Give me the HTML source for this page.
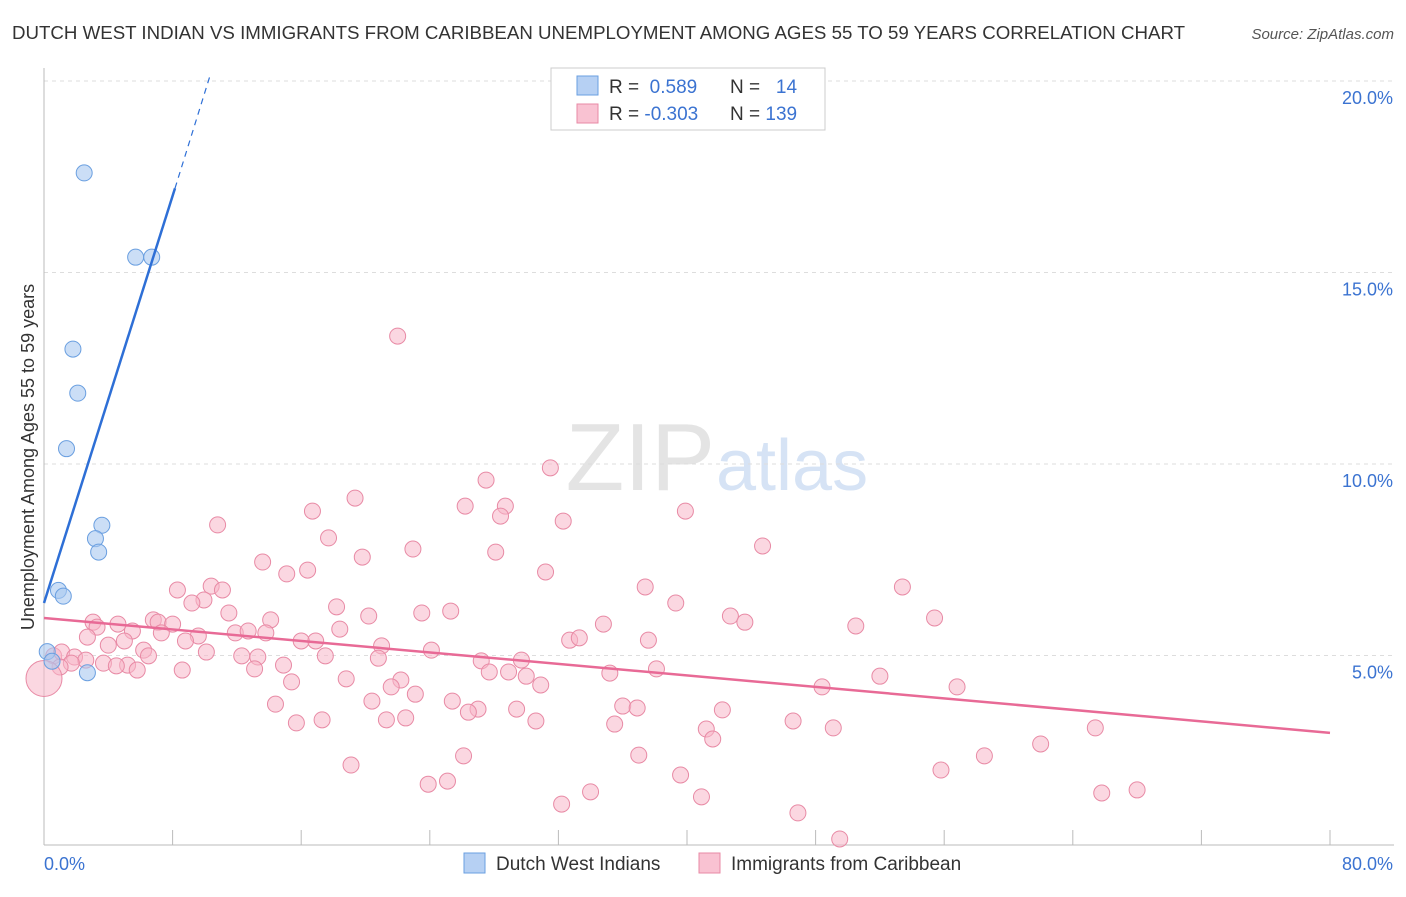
<!DOCTYPE html>
<html><head><meta charset="utf-8"><style>
body{margin:0;background:#fff;font-family:"Liberation Sans",sans-serif;}
svg text{font-family:"Liberation Sans",sans-serif;}
</style></head><body>
<svg id="chart" width="1406" height="892" viewBox="0 0 1406 892">
<text x="12" y="39" font-size="18.7" fill="#333">DUTCH WEST INDIAN VS IMMIGRANTS FROM CARIBBEAN UNEMPLOYMENT AMONG AGES 55 TO 59 YEARS CORRELATION CHART</text>
<text x="1394" y="39" font-size="15" fill="#555" font-style="italic" text-anchor="end">Source: ZipAtlas.com</text>
<text x="715" y="490" font-size="96" fill="#e4e4e4" text-anchor="end" font-family="Liberation Serif">ZIP</text>
<text x="716" y="490" font-size="72" fill="#d6e3f5">atlas</text>
<g id="grid"></g>
<g id="axes"></g>
<g id="marks"></g>
<text transform="translate(34,457) rotate(-90)" font-size="18" fill="#333" text-anchor="middle">Unemployment Among Ages 55 to 59 years</text>
<text x="44" y="870" font-size="18" fill="#3b73d1">0.0%</text>
<text x="1393" y="870" font-size="18" fill="#3b73d1" text-anchor="end">80.0%</text>
<g>
<rect x="551" y="68" width="274" height="62" fill="#fff" stroke="#ccc"/>
<rect x="577" y="76" width="21" height="19" fill="#b6d0f3" stroke="#6a9fe0"/>
<rect x="577" y="104" width="21" height="19" fill="#f9c2d2" stroke="#e88aa5"/>
<text x="609" y="93" font-size="19" fill="#333">R = <tspan fill="#3b73d1">&#160;0.589</tspan></text>
<text x="730" y="93" font-size="19" fill="#333">N = <tspan fill="#3b73d1">&#160;&#160;14</tspan></text>
<text x="609" y="120" font-size="19" fill="#333">R = <tspan fill="#3b73d1">-0.303</tspan></text>
<text x="730" y="120" font-size="19" fill="#333">N = <tspan fill="#3b73d1">139</tspan></text>
</g>
<g>
<rect x="464" y="853" width="21" height="20" fill="#b6d0f3" stroke="#6a9fe0"/>
<text x="496" y="870" font-size="19" fill="#333">Dutch West Indians</text>
<rect x="699" y="853" width="21" height="20" fill="#f9c2d2" stroke="#e88aa5"/>
<text x="731" y="870" font-size="19" fill="#333">Immigrants from Caribbean</text>
</g>
</svg>
<script>
const yTicks=[5,10,15,20];
const yTickLabels=["5.0%","10.0%","15.0%","20.0%"];
const xTicks=[0,8,16,24,32,40,48,56,64,72,80];
const blueX=[2.5,5.7,6.7,1.8,2.1,1.4,3.6,3.2,3.4,0.9,1.2,0.2,0.5,2.7];
const blueY=[17.6,15.4,15.4,13.0,11.85,10.4,8.4,8.05,7.7,6.7,6.55,5.1,4.85,4.55];
const pinkX=[22.0,31.5,27.5,19.35,26.2,28.7,28.4,16.7,39.9,32.3,10.8,17.7,44.7,22.95,28.1,19.8,13.6,31.2,16.4,15.1,37.4,53.4,8.3,10.4,11.1,9.95,9.2,39.3,18.2,25.3,23.5,11.5,20.2,42.7,55.4,43.6,34.8,50.5,14.1,6.8,3.05,4.6,3.3,7.1,8.0,18.4,5.5,7.3,11.9,12.7,13.8,9.6,2.7,5.0,16.9,4.0,21.0,37.6,32.7,33.3,16.0,8.8,10.1,6.2,24.1,12.3,13.3,20.8,17.5,29.7,27.2,0.6,1.1,1.9,2.6,6.5,3.7,5.2,4.5,5.8,8.6,13.1,14.9,27.7,28.9,38.1,35.2,30.0,1.7,1.0,15.4,18.8,22.2,21.6,30.9,23.1,52.0,48.4,56.8,20.4,14.4,25.4,27.0,29.4,36.0,36.9,26.4,42.2,30.6,15.7,17.3,21.3,22.5,35.5,46.6,49.1,41.2,41.6,65.4,26.1,37.0,62.0,58.5,19.1,55.8,39.6,25.1,23.9,68.0,65.8,34.0,40.9,32.2,46.9,49.5,0.0];
const pinkY=[13.34,9.9,9.58,9.11,8.9,8.9,8.64,8.77,8.77,8.51,8.41,8.07,7.86,7.78,7.7,7.57,7.44,7.18,7.23,7.13,6.79,6.79,6.71,6.81,6.71,6.45,6.37,6.37,6.27,6.16,6.11,6.11,6.03,6.03,5.98,5.87,5.82,5.77,5.93,5.93,5.87,5.82,5.74,5.87,5.82,5.69,5.64,5.59,5.59,5.64,5.59,5.51,5.48,5.38,5.38,5.27,5.25,5.4,5.4,5.46,5.38,5.38,5.09,5.14,5.14,4.99,4.96,4.93,4.99,4.88,4.86,4.99,5.09,4.96,4.88,4.99,4.8,4.75,4.73,4.62,4.62,4.65,4.75,4.57,4.57,4.65,4.54,4.46,4.8,4.7,4.31,4.39,4.36,4.18,4.23,3.99,4.46,4.18,4.18,3.81,3.73,3.81,3.6,3.6,3.68,3.63,3.52,3.58,3.29,3.24,3.32,3.32,3.37,3.21,3.29,3.11,3.08,2.82,3.11,2.38,2.4,2.69,2.38,2.14,2.01,1.88,1.72,1.64,1.49,1.41,1.44,1.31,1.12,0.89,0.21,4.4];
const blueLine=[0,6.37,8.15,17.2,10.3,20.1];
const pinkLine=[0,5.98,80,2.98];
const X=v=>44+v*16.075, Y=v=>847-v*38.3;
const NS="http://www.w3.org/2000/svg";
function mk(tag,parent,attrs){const e=document.createElementNS(NS,tag);for(const k in attrs)e.setAttribute(k,attrs[k]);parent.appendChild(e);return e;}
const grid=document.getElementById('grid'),axes=document.getElementById('axes'),marks=document.getElementById('marks');
yTicks.forEach((t,i)=>{
 const l=mk('line',grid,{x1:44,x2:1394,y1:Y(t),y2:Y(t),stroke:'#ddd','stroke-dasharray':'4 4'});
 
 
 const tx=mk('text',grid,{x:1393,y:Y(t)+23,'font-size':18,fill:'#3b73d1','text-anchor':'end'});
 tx.textContent=yTickLabels[i];
 
 
});
const ax=mk('line',axes,{x1:44,x2:44,y1:68,y2:845,stroke:'#bbb'});


const bx=mk('line',axes,{x1:44,x2:1394,y1:845,y2:845,stroke:'#bbb'});


xTicks.forEach(t=>{
 const l=mk('line',axes,{x1:X(t),x2:X(t),y1:830,y2:845,stroke:'#bbb'});
 
 
});
pinkX.forEach((x,i)=>{
 const big=(i===pinkX.length-1);
 const c=mk('circle',marks,{cx:X(x),cy:Y(pinkY[i]),r:big?18:8,fill:'#f7b6c8','fill-opacity':0.55,stroke:'#e88aa5','stroke-width':1});
 
 
});
blueX.forEach((x,i)=>{
 const c=mk('circle',marks,{cx:X(x),cy:Y(blueY[i]),r:8,fill:'#a9c8f0','fill-opacity':0.6,stroke:'#6a9fe0','stroke-width':1});
 
 
});
const pl=mk('line',marks,{x1:X(pinkLine[0]),y1:Y(pinkLine[1]),x2:X(pinkLine[2]),y2:Y(pinkLine[3]),stroke:'#e86a96','stroke-width':2.5});


const bl=mk('line',marks,{x1:X(blueLine[0]),y1:Y(blueLine[1]),x2:X(blueLine[2]),y2:Y(blueLine[3]),stroke:'#2e6fd6','stroke-width':2.5});


const bd=mk('line',marks,{x1:X(blueLine[2]),y1:Y(blueLine[3]),x2:X(blueLine[4]),y2:Y(blueLine[5]),stroke:'#2e6fd6','stroke-width':1.2,'stroke-dasharray':'6 5'});


</script>
</body></html>
